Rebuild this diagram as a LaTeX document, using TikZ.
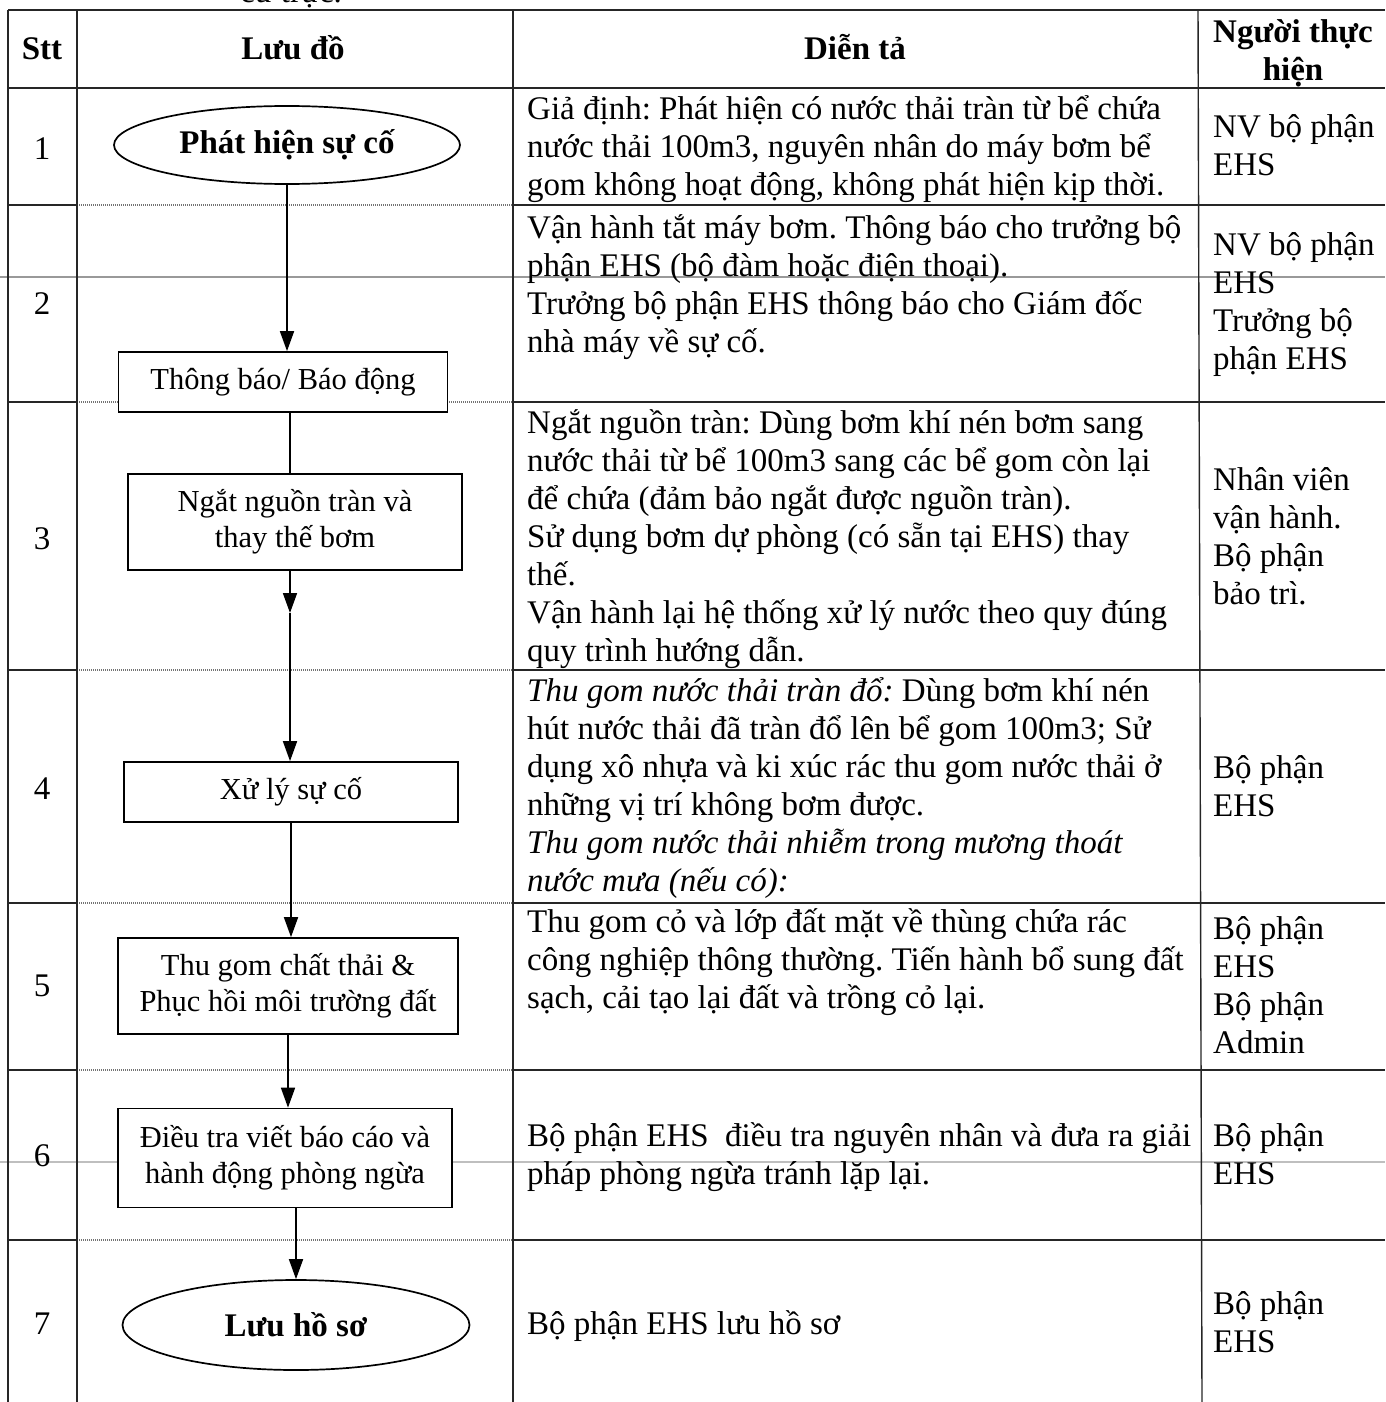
\documentclass[tikz,border=0pt]{standalone}
\usepackage{fontspec}
\setmainfont{Liberation Serif}
\usetikzlibrary{shapes.geometric,arrows.meta}
\frenchspacing
\newcommand\bodyfont{\fontsize{33}{38}\selectfont\lineskiplimit=-30pt\relax}
\newcommand\boxfont{\fontsize{30.5}{36}\selectfont\lineskiplimit=-30pt\relax}
\newcommand\fst{\rule{0pt}{30pt}}
\tikzset{
  grid/.style={line width=1.4pt, black!85},
  dots/.style={line width=1.2pt, black!55, dash pattern=on 1pt off 1pt},
  scanline/.style={line width=1.2pt, black!40},
  flowbox/.style={draw, rectangle, line width=1.7pt, fill=white, inner sep=0pt, align=center, font=\boxfont},
  term/.style={draw, ellipse, line width=1.7pt, fill=white, inner sep=0pt, font=\bodyfont\bfseries},
  txt/.style={anchor=north west, inner sep=0pt, align=left, font=\bodyfont},
  num/.style={anchor=base, inner sep=0pt, font=\bodyfont},
  head/.style={anchor=base, inner sep=0pt, font=\bodyfont\bfseries},
  flow/.style={line width=1.7pt},
  arr/.style={flow, -{Triangle[length=20pt,width=14pt]}},
}
\begin{document}
\begin{tikzpicture}[x=1pt,y=-1pt]
\useasboundingbox (0,0) rectangle (1385,1402);

% line of the preceding paragraph, cut by the page edge
\node[anchor=base west, inner sep=0pt, font=\bodyfont] (prev) at (240,3) {cứ trực.};

% faint scanner streaks
\draw[scanline] (0,277) -- (1385,277);
\draw[scanline, black!25] (0,1162) -- (1385,1162);

% table rules
\draw[grid] (8,10) -- (1385,10);
\draw[grid] (8,88) -- (1385,88);
\foreach \y in {205,402,670,903,1070,1240}{
  \draw[grid] (8,\y) -- (77,\y);
  \draw[grid] (513,\y) -- (1385,\y);
  \draw[dots] (77,\y) -- (513,\y);
}
\draw[grid] (8,10) -- (8,1402);
\draw[grid] (77,10) -- (77,1402);
\draw[grid] (513,10) -- (513,1402);
\draw[grid] (1198,10) -- (1202,1402);

% header
\node[head] (hstt) at (42,60) {Stt};
\node[head] (hflow) at (293,60) {Lưu đồ};
\node[head] (hdesc) at (855,60) {Diễn tả};
\node[anchor=north, inner sep=0pt, align=center, font=\bodyfont\bfseries] (hwho) at (1293,12) {\fst Người thực\\hiện};

% step numbers
\node[num] (n1) at (42,159) {1};
\node[num] (n2) at (42,314) {2};
\node[num] (n3) at (42,549) {3};
\node[num] (n4) at (42,799) {4};
\node[num] (n5) at (42,996) {5};
\node[num] (n6) at (42,1166) {6};
\node[num] (n7) at (42,1334) {7};

% flowchart
\node[term, minimum width=346pt, minimum height=78pt] (e1) at (287,145) {Phát hiện sự cố};
\node[flowbox, minimum width=329pt, minimum height=60pt] (b2) at (283,382) {Thông báo/ Báo động};
\node[flowbox, minimum width=334pt, minimum height=96pt] (b3) at (295,522) {Ngắt nguồn tràn và\\thay thế bơm};
\node[flowbox, minimum width=334pt, minimum height=60pt] (b4) at (291,792) {Xử lý sự cố};
\node[flowbox, minimum width=340pt, minimum height=96pt] (b5) at (288,986) {Thu gom chất thải \&\\Phục hồi môi trường đất};
\node[flowbox, minimum width=334pt, minimum height=99pt] (b6) at (285,1158) {Điều tra viết báo cáo và\\hành động phòng ngừa};
\node[term, minimum width=347pt, minimum height=90pt] (e7) at (296,1325) {Lưu hồ sơ};

\coordinate (m34) at (290,613);
\draw[arr] (e1.south) -- (e1.south |- b2.north);
\draw[flow] (m34 |- b2.south) -- (m34 |- b3.north);
\draw[arr] (m34 |- b3.south) -- (m34);
\draw[arr] (m34) -- (m34 |- b4.north);
\draw[arr] (b4.south) -- (b4.south |- b5.north);
\draw[arr] (b5.south) -- (b5.south |- b6.north);
\draw[arr] (e7.north |- b6.south) -- (e7.north);

% descriptions
\node[txt] (d1) at (527,89) {\fst Giả định: Phát hiện có nước thải tràn từ bể chứa\\nước thải 100m3, nguyên nhân do máy bơm bể\\gom không hoạt động, không phát hiện kịp thời.};
\node[txt] (d2) at (527,208) {\fst Vận hành tắt máy bơm. Thông báo cho trưởng bộ\\phận EHS (bộ đàm hoặc điện thoại).\\Trưởng bộ phận EHS thông báo cho Giám đốc\\nhà máy về sự cố.};
\node[txt] (d3) at (527,403) {\fst Ngắt nguồn tràn: Dùng bơm khí nén bơm sang\\nước thải từ bể 100m3 sang các bể gom còn lại\\để chứa (đảm bảo ngắt được nguồn tràn).\\Sử dụng bơm dự phòng (có sẵn tại EHS) thay\\thế.\\Vận hành lại hệ thống xử lý nước theo quy đúng\\quy trình hướng dẫn.};
\node[txt] (d4) at (527,671) {\fst\textit{Thu gom nước thải tràn đổ:} Dùng bơm khí nén\\hút nước thải đã tràn đổ lên bể gom 100m3; Sử\\dụng xô nhựa và ki xúc rác thu gom nước thải ở\\những vị trí không bơm được.\\\textit{Thu gom nước thải nhiễm trong mương thoát}\\\textit{nước mưa (nếu có):}};
\node[txt] (d5) at (527,902) {\fst Thu gom cỏ và lớp đất mặt về thùng chứa rác\\công nghiệp thông thường. Tiến hành bổ sung đất\\sạch, cải tạo lại đất và trồng cỏ lại.};
\node[txt] (d6) at (527,1116) {\fst Bộ phận EHS\ \ điều tra nguyên nhân và đưa ra giải\\pháp phòng ngừa tránh lặp lại.};
\node[anchor=base west, inner sep=0pt, font=\bodyfont] (d7) at (527,1334) {Bộ phận EHS lưu hồ sơ};

% responsible parties
\node[txt] (w1) at (1213,107) {\fst NV bộ phận\\EHS};
\node[txt] (w2) at (1213,225) {\fst NV bộ phận\\EHS\\Trưởng bộ\\phận EHS};
\node[txt] (w3) at (1213,460) {\fst Nhân viên\\vận hành.\\Bộ phận\\bảo trì.};
\node[txt] (w4) at (1213,748) {\fst Bộ phận\\EHS};
\node[txt] (w5) at (1213,909) {\fst Bộ phận\\EHS\\Bộ phận\\Admin};
\node[txt] (w6) at (1213,1116) {\fst Bộ phận\\EHS};
\node[txt] (w7) at (1213,1284) {\fst Bộ phận\\EHS};
\end{tikzpicture}
\end{document}
